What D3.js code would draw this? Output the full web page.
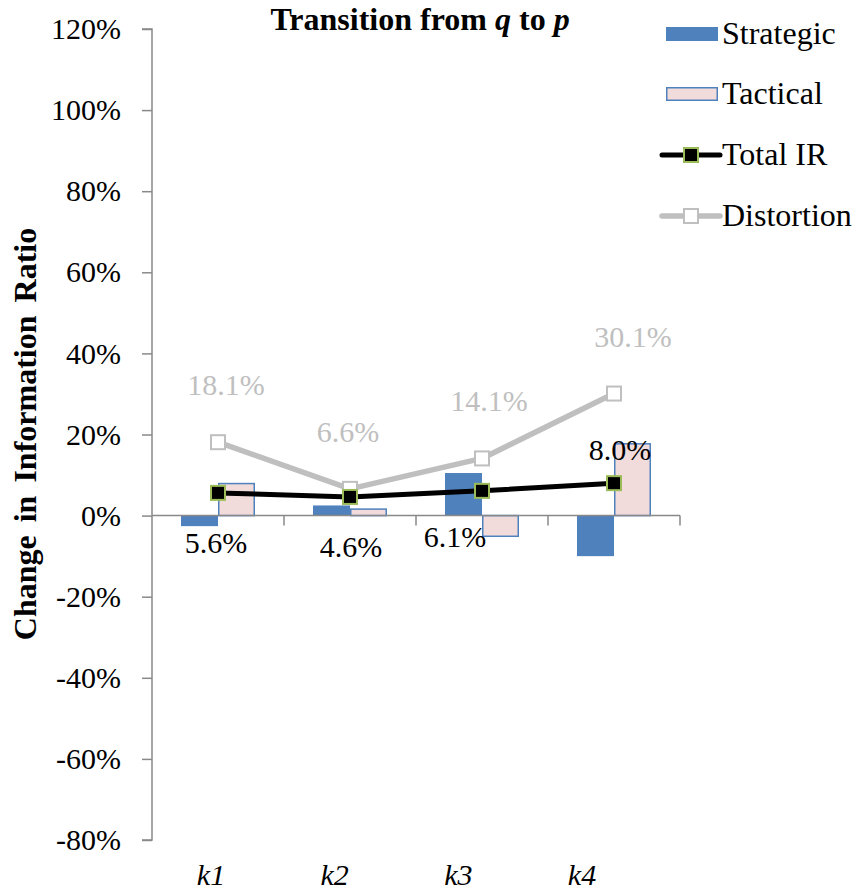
<!DOCTYPE html>
<html>
<head>
<meta charset="utf-8">
<script src="https://cdn.jsdelivr.net/npm/d3@7/dist/d3.min.js"></script>
<style>
  html, body { margin: 0; padding: 0; background: #fff; }
  svg { display: block; }
</style>
</head>
<body>
<svg id="chart" width="857" height="896"></svg>
<script>
// Change in information ratio by k, in percent
const categories = ["k1", "k2", "k3", "k4"];
const strategic  = [-2.6, 2.5, 10.5, -10.0];
const tactical   = [7.9, 1.6, -5.1, 17.7];
const totalIR    = [5.6, 4.6, 6.1, 8.0];
const distortion = [18.1, 6.6, 14.1, 30.1];
const yTicks     = [120, 100, 80, 60, 40, 20, 0, -20, -40, -60, -80];

const svg = d3.select("#chart");
const SERIF = "'Liberation Serif'";
const FONT = 30;        // ticks, categories, value labels
const LEGEND_FONT = 32;
const TITLE_FONT = 32;
const axisColor = "#898989";

const y = d3.scaleLinear().domain([-80, 120]).range([840, 29]);
const x0 = d3.scaleBand().domain(categories).range([152, 680]).padding(0);
const x1 = d3.scaleBand().domain(["Strategic", "Tactical"])
  .range([0, x0.bandwidth()]).paddingInner(0).paddingOuter(0.784);
const cx = c => x0(c) + x0.bandwidth() / 2;

// bars
const barSeries = [
  { name: "Strategic", values: strategic, fill: "#4f81bd", stroke: "none" },
  { name: "Tactical",  values: tactical,  fill: "#f2dcdb", stroke: "#4f81bd" }
];
barSeries.forEach(s => {
  const inset = s.stroke === "none" ? 0 : 0.75;
  svg.append("g").selectAll("rect").data(categories).join("rect")
    .attr("x", c => x0(c) + x1(s.name) + inset)
    .attr("width", x1.bandwidth() - 2 * inset)
    .attr("y", (c, i) => Math.min(y(s.values[i]), y(0)))
    .attr("height", (c, i) => Math.abs(y(s.values[i]) - y(0)))
    .attr("fill", s.fill)
    .attr("stroke", s.stroke)
    .attr("stroke-width", 1.5);
});

// y axis
const yAxis = d3.axisLeft(y).tickValues(yTicks).tickSize(10).tickPadding(21)
  .tickFormat(d => d + "%");
const gy = svg.append("g").attr("transform", "translate(152,0)").call(yAxis);
gy.attr("font-family", null).attr("font-size", null);
gy.select(".domain").attr("stroke", axisColor).attr("stroke-width", 1.5)
  .attr("d", `M-10,${y(120)}H0V${y(-80)}H-10`);
gy.selectAll(".tick line").attr("stroke", axisColor).attr("stroke-width", 1.5);
gy.selectAll(".tick text").attr("fill", "#000").style("font-size", FONT + "px");

// x axis along zero
const gx = svg.append("g");
gx.append("line").attr("x1", 152).attr("x2", 680).attr("y1", y(0)).attr("y2", y(0))
  .attr("stroke", axisColor).attr("stroke-width", 1.5);
const bounds = categories.map(c => x0(c) + x0.bandwidth());
gx.selectAll("line.tk").data(bounds).join("line").attr("class", "tk")
  .attr("x1", d => d).attr("x2", d => d)
  .attr("y1", y(0)).attr("y2", y(0) + 10)
  .attr("stroke", axisColor).attr("stroke-width", 1.5);

// category labels along the bottom
const xLab = d3.scalePoint().domain(categories).range([211, 582]);
svg.append("g").selectAll("text").data(categories).join("text")
  .attr("x", d => xLab(d)).attr("y", 885)
  .attr("text-anchor", "middle")
  .style("font-size", FONT + "px")
  .style("font-style", "italic").text(d => d);

// lines
const line = d3.line().x(d => cx(d.c)).y(d => y(d.v));
const distPts = categories.map((c, i) => ({ c, v: distortion[i] }));
const totPts = categories.map((c, i) => ({ c, v: totalIR[i] }));

svg.append("path").datum(distPts).attr("d", line)
  .attr("fill", "none").attr("stroke", "#bfbfbf").attr("stroke-width", 5.5)
  .attr("stroke-linejoin", "round");
svg.append("g").selectAll("rect").data(distPts).join("rect")
  .attr("x", d => cx(d.c) - 7).attr("y", d => y(d.v) - 7)
  .attr("width", 14).attr("height", 14)
  .attr("fill", "#fff").attr("stroke", "#bfbfbf").attr("stroke-width", 2);

svg.append("path").datum(totPts).attr("d", line)
  .attr("fill", "none").attr("stroke", "#000").attr("stroke-width", 5)
  .attr("stroke-linejoin", "round");
svg.append("g").selectAll("rect").data(totPts).join("rect")
  .attr("x", d => cx(d.c) - 7).attr("y", d => y(d.v) - 7)
  .attr("width", 14).attr("height", 14)
  .attr("fill", "#000").attr("stroke", "#9bbb59").attr("stroke-width", 2);

// value labels
const distDx = [8, -2, 7, 19];
svg.append("g").selectAll("text").data(distPts).join("text")
  .attr("x", (d, i) => cx(d.c) + distDx[i])
  .attr("y", d => y(d.v) - 47)
  .attr("text-anchor", "middle").attr("fill", "#bfbfbf")
  .style("font-size", FONT + "px")
  .text(d => d.v.toFixed(1) + "%");

const totPlace = [
  { dx: -2, dy: 60 }, { dx: 1, dy: 60 }, { dx: -27, dy: 56 }, { dx: 6, dy: -23 }
];
svg.append("g").selectAll("text").data(totPts).join("text")
  .attr("x", (d, i) => cx(d.c) + totPlace[i].dx)
  .attr("y", (d, i) => y(d.v) + totPlace[i].dy)
  .attr("text-anchor", "middle").attr("fill", "#000")
  .style("font-size", FONT + "px")
  .text(d => d.v.toFixed(1) + "%");

// title
const title = svg.append("text").attr("x", 420).attr("y", 30)
  .attr("text-anchor", "middle").style("font-weight", "bold")
  .style("font-size", TITLE_FONT + "px");
title.append("tspan").text("Transition from ");
title.append("tspan").style("font-style", "italic").text("q");
title.append("tspan").text(" to ");
title.append("tspan").style("font-style", "italic").text("p");

// y axis title
svg.append("text")
  .attr("transform", "translate(36,434) rotate(-90)")
  .attr("text-anchor", "middle").style("font-weight", "bold")
  .style("font-size", "32px")
  .style("word-spacing", "5px")
  .text("Change in Information Ratio");

// legend
const legend = svg.append("g");
const legItems = ["Strategic", "Tactical", "Total IR", "Distortion"];
const legBase = [44, 104, 165, 226];
legItems.forEach((name, i) => {
  const g = legend.append("g");
  const cy = legBase[i] - 10;
  if (name === "Strategic") {
    g.append("rect").attr("x", 666).attr("y", cy - 7).attr("width", 52).attr("height", 14)
      .attr("fill", "#4f81bd");
  } else if (name === "Tactical") {
    g.append("rect").attr("x", 666.75).attr("y", cy - 6.25).attr("width", 50.5).attr("height", 12.5)
      .attr("fill", "#f2dcdb").attr("stroke", "#4f81bd").attr("stroke-width", 1.5);
  } else if (name === "Total IR") {
    g.append("line").attr("x1", 662).attr("x2", 720).attr("y1", cy).attr("y2", cy)
      .attr("stroke", "#000").attr("stroke-width", 5).attr("stroke-linecap", "round");
    g.append("rect").attr("x", 684).attr("y", cy - 7).attr("width", 14).attr("height", 14)
      .attr("fill", "#000").attr("stroke", "#9bbb59").attr("stroke-width", 2);
  } else {
    g.append("line").attr("x1", 662).attr("x2", 720).attr("y1", cy).attr("y2", cy)
      .attr("stroke", "#bfbfbf").attr("stroke-width", 5.5).attr("stroke-linecap", "round");
    g.append("rect").attr("x", 684).attr("y", cy - 7).attr("width", 14).attr("height", 14)
      .attr("fill", "#fff").attr("stroke", "#bfbfbf").attr("stroke-width", 2);
  }
  g.append("text").attr("x", 722).attr("y", legBase[i])
    .style("font-size", LEGEND_FONT + "px").text(name);
});

// every label in the serif face
svg.selectAll("text").style("font-family", SERIF);
</script>
</body>
</html>
